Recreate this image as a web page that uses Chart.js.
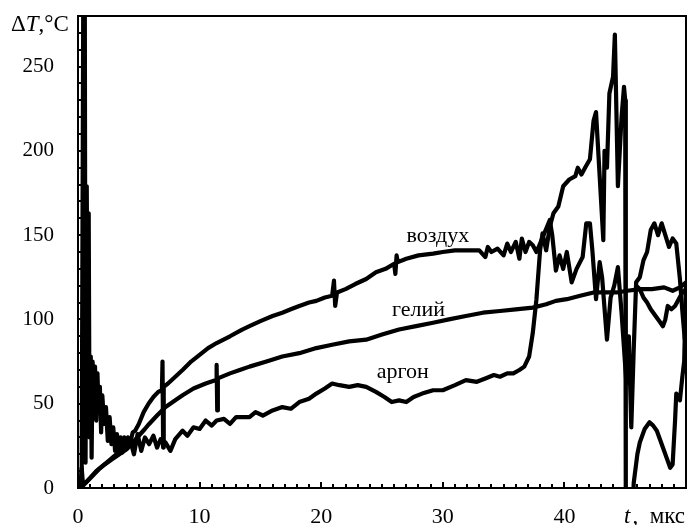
<!DOCTYPE html>
<html>
<head>
<meta charset="utf-8">
<script src="https://cdn.jsdelivr.net/npm/chart.js@4.4.0/dist/chart.umd.min.js"></script>
<style>
  html, body { margin: 0; padding: 0; background: #fff; }
  #wrap { width: 689px; height: 525px; }
</style>
</head>
<body>
<div id="wrap"><canvas id="grafico" width="689" height="525"></canvas></div>
<script>
// --- данные (t в мкс, ΔT в °C) ---
const airT = [0.30,0.45,0.55,0.62,0.72,0.80,0.88,0.95,1.05,1.12,1.20,1.30,1.40,1.50,1.60,1.70,1.80,1.90,2.00,2.15,2.30,2.45,2.60,2.75,2.90,3.05,3.20,3.35,3.50,3.65,3.80,3.95,4.10,4.30,4.50,4.70,5.00,5.40,5.80,6.20,6.60,6.90,6.95,7.00,7.05,7.40,8.00,8.60,9.30,10.0,10.7,11.4,12.5,13.5,14.1,15.0,16.0,16.8,17.5,18.2,19.0,19.6,20.3,20.9,21.05,21.15,21.3,22.0,22.8,23.7,24.5,25.3,26.0,26.1,26.2,26.3,27.0,28.0,29.2,30.0,31.0,32.0,33.0,33.5,33.7,34.0,34.5,35.0,35.3,35.6,36.0,36.3,36.5,36.8,37.1,37.4,37.7,38.0,38.4,38.8,39.0,39.3,39.6,39.9,40.2,40.6,41.0,41.5,41.8,42.1,42.3,42.6,42.9,43.1,43.5,43.8,44.1,44.4,44.7,45.1,45.3,45.5,45.7,45.9,46.2,46.5,46.8,47.1,47.4,47.7,48.0,48.3,48.6,48.9,49.2,49.5,49.7,49.9,50.0];
const airV = [2,330,330,15,179,60,163,30,78,18,75,50,72,40,68,45,60,33,55,38,48,28,42,26,36,22,32,23,30,21,30,24,30,27,33,34,38,45,50,54,57,58,75,24,60,62,66,70,75,79,83,86,90,94,96,99,102,104,106,108,110,111,113,114,123,108,116,118,121,124,128,130,133,127,138,134,136,138,139,140,141,141,141,137,143,140,142,138,145,140,146,136,148,140,146,144,140,145,152,159,150,129,138,130,140,122,130,137,157,157,141,112,134,125,88,113,120,131,104,62,90,36,82,122,125,135,140,153,157,150,157,150,143,148,145,124,105,88,90];

const heliumT = [0.20,0.50,0.90,1.30,1.70,2.20,2.80,3.40,4.00,4.50,5.00,5.50,5.85,6.50,7.20,8.00,8.60,9.50,10.5,11.35,11.40,11.45,11.50,12.5,13.3,14.1,15.5,16.8,18.2,19.6,20.9,22.3,23.7,25.0,26.4,27.8,29.2,30.5,31.9,33.3,34.7,36.0,37.4,38.5,39.3,40.2,41.3,42.4,43.3,44.3,45.2,46.2,47.2,48.2,48.9,49.5,50.0];
const heliumV = [0,2,5,8,11,14,17,20,23,27,31,35,38,43,48,52,55,59,62,64,73,46,65,68,70,72,75,78,80,83,85,87,88,91,94,96,98,100,102,104,105,106,107,109,111,112,114,116,116,116,117,118,118,119,117,119,122];

const argonT = [0.20,0.30,0.40,0.60,1.00,1.50,2.00,2.50,3.00,3.50,4.00,4.30,4.60,4.90,5.20,5.50,5.85,6.20,6.50,6.80,7.20,7.60,8.00,8.60,9.00,9.50,10.0,10.5,11.0,11.4,12.0,12.5,13.0,14.1,14.6,15.2,16.0,16.8,17.5,18.2,19.0,19.6,20.3,20.9,21.5,22.3,23.0,23.7,24.5,25.2,25.8,26.4,27.0,27.6,28.3,29.2,30.0,31.0,31.9,32.8,33.5,34.2,34.7,35.3,35.8,36.3,36.7,37.1,37.4,37.7,38.0,38.2,38.5,38.8,39.1,39.5,39.9,40.4,40.9,41.1,41.4,41.7,42.1,42.4,42.6,42.9,43.2,43.3,43.5,43.7,44.0,44.15,44.4,44.7,44.9,45.0,45.05,45.6,45.7,46.0,46.2,46.6,47.0,47.3,47.6,47.9,48.1,48.4,48.7,48.9,49.1,49.2,49.5,49.7,49.85,50.0];
const argonV = [0,12,3,3,6,10,13,16,19,22,25,28,20,32,22,30,26,31,24,29,27,22,29,34,31,36,35,40,37,40,41,38,42,42,45,43,46,48,47,51,53,56,59,62,61,60,61,60,57,54,51,52,51,54,56,58,58,61,64,63,65,67,66,68,68,70,72,78,92,112,141,151,141,155,163,167,179,183,185,190,186,190,195,218,223,185,147,200,190,234,244,269,179,220,238,230,-20,-20,3,20,27,35,39,37,34,28,24,18,12,14,40,56,52,66,75,120];

const tailT = [45.9,46.2,46.5,46.8,47.1,47.5,47.9,48.1,48.3,48.5,48.8,49.1,49.4,49.7,50.0];
const tailV = [120,118,113,110,106,102,98,96,100,108,106,108,112,116,118];

const seriesNames = ['воздух', 'гелий', 'аргон'];
const labelT = [29.6, 28.0, 26.7];
const labelV = [146, 102, 65];
const xTicks = [0, 10, 20, 30, 40];
const yTicks = [0, 50, 100, 150, 200, 250];

function pts(ts, vs) {
  const n = Math.min(ts.length, vs.length);
  const out = [];
  for (let i = 0; i < n; i++) out.push({x: ts[i], y: vs[i]});
  return out;
}

const SERIF = '"Liberation Serif", "DejaVu Serif", serif';

function linea(label, data) {
  return {
    label: label,
    data: data,
    borderColor: '#000',
    borderWidth: 4.2,
    pointRadius: 0,
    tension: 0,
    fill: false,
    clip: 1,
    borderJoinStyle: 'round',
    borderCapStyle: 'round'
  };
}

// marco, marcas internas y textos
const marco = {
  id: 'marco',
  afterDatasetsDraw(chart) {
    const {ctx, chartArea: a, scales} = chart;
    const sx = scales.x, sy = scales.y;
    ctx.save();
    ctx.strokeStyle = '#000';
    ctx.lineWidth = 2;
    ctx.strokeRect(a.left, a.top, a.right - a.left, a.bottom - a.top);
    ctx.beginPath();
    for (let v = 10; v < 280; v += 10) {
      const y = Math.round(sy.getPixelForValue(v));
      ctx.moveTo(a.left, y);
      ctx.lineTo(a.left + 5, y);
    }
    for (let t = 1; t < 50; t++) {
      const x = Math.round(sx.getPixelForValue(t));
      ctx.moveTo(x, a.bottom);
      ctx.lineTo(x, a.bottom - (t % 10 === 0 ? 6 : 4));
    }
    ctx.stroke();
    ctx.restore();
  },
  afterDraw(chart) {
    const {ctx, chartArea: a, scales} = chart;
    ctx.save();
    ctx.fillStyle = '#000';
    ctx.textBaseline = 'alphabetic';
    // подписи кривых
    ctx.font = '22px ' + SERIF;
    ctx.textAlign = 'center';
    seriesNames.forEach((n, i) => {
      ctx.fillText(n, scales.x.getPixelForValue(labelT[i]), scales.y.getPixelForValue(labelV[i]));
    });
    // ΔT,°C
    ctx.textAlign = 'left';
    let x = 11;
    const yT = 31;
    ctx.font = '23px ' + SERIF;
    ctx.fillText('Δ', x, yT); x += ctx.measureText('Δ').width;
    ctx.font = 'italic 23px ' + SERIF;
    ctx.fillText('T', x, yT); x += ctx.measureText('T').width;
    ctx.font = '23px ' + SERIF;
    ctx.fillText(',°C', x, yT);
    // t, мкс
    const yB = 523;
    ctx.font = '23px ' + SERIF;
    const rest = ',  мкс';
    const wRest = ctx.measureText(rest).width;
    ctx.font = 'italic 23px ' + SERIF;
    const wT = ctx.measureText('t').width;
    let xs = a.right + 1 - wRest - wT - 4;
    ctx.fillText('t', xs, yB);
    ctx.font = '23px ' + SERIF;
    ctx.fillText(rest, xs + wT + 2, yB);
    ctx.restore();
  }
};

new Chart(document.getElementById('grafico'), {
  type: 'line',
  data: {
    datasets: [
      linea(seriesNames[0], pts(airT, airV)),
      linea(seriesNames[1], pts(heliumT, heliumV)),
      linea(seriesNames[2], pts(argonT, argonV)),
      linea('', pts(tailT, tailV))
    ]
  },
  options: {
    responsive: false,
    animation: false,
    devicePixelRatio: 1,
    layout: { autoPadding: false, padding: { top: 16, right: 3, left: 0, bottom: 0 } },
    plugins: { legend: { display: false }, tooltip: { enabled: false } },
    scales: {
      x: {
        type: 'linear',
        min: 0, max: 50,
        afterFit(s) { s.height = 37; s.paddingLeft = 0; s.paddingRight = 0; },
        afterBuildTicks(s) { s.ticks = xTicks.map(v => ({value: v})); },
        grid: { display: false, drawTicks: false },
        border: { display: false },
        ticks: { color: '#000', padding: 16, maxRotation: 0, font: { family: SERIF, size: 22 } }
      },
      y: {
        type: 'linear',
        min: 0, max: 280,
        afterFit(s) { s.width = 78; s.paddingTop = 0; s.paddingBottom = 0; },
        afterBuildTicks(s) { s.ticks = yTicks.map(v => ({value: v})); },
        grid: { display: false, drawTicks: false },
        border: { display: false },
        ticks: { color: '#000', padding: 24, font: { family: SERIF, size: 21 } }
      }
    }
  },
  plugins: [marco]
});
</script>
</body>
</html>
